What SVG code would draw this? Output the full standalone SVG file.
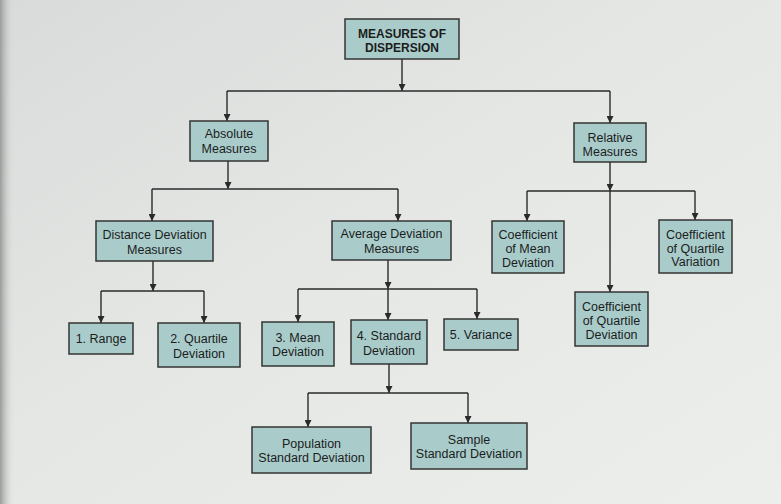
<svg xmlns="http://www.w3.org/2000/svg" width="781" height="504" viewBox="0 0 781 504">
<defs>
<linearGradient id="bg" x1="0" y1="0" x2="1" y2="1">
<stop offset="0" stop-color="#d8dbd9"/>
<stop offset="0.5" stop-color="#e6e8e6"/>
<stop offset="1" stop-color="#eceeec"/>
</linearGradient>
<linearGradient id="edge" x1="0" y1="0" x2="1" y2="0">
<stop offset="0" stop-color="#9a9c9a"/>
<stop offset="1" stop-color="#dcdfdd" stop-opacity="0"/>
</linearGradient>
<marker id="ah" viewBox="0 0 10 10" refX="10" refY="5" markerWidth="7" markerHeight="7" markerUnits="userSpaceOnUse" orient="auto">
<path d="M0,0 L10,5 L0,10 Z" fill="#2a2a2a"/>
</marker>
</defs>
<style>
.box{fill:#a9cccb;stroke:#333533;stroke-width:1.5}
.t{font-family:"Liberation Sans",Arial,sans-serif;font-size:12.5px;fill:#1c1c1c;text-anchor:middle}
.b{font-weight:bold;font-size:12px}
.c path{fill:none;stroke:#2a2a2a;stroke-width:1.4}
.a{marker-end:url(#ah)}
</style>
<rect width="781" height="504" fill="url(#bg)"/>
<rect width="14" height="504" fill="url(#edge)"/>

<g id="connectors" class="c">
<path class="a" d="M402 59 V91"/>
<path d="M227 91 H610"/>
<path class="a" d="M227 91 V121"/>
<path class="a" d="M610 91 V123"/>

<path class="a" d="M228 161 V189"/>
<path d="M152 189 H398"/>
<path class="a" d="M152 189 V221"/>
<path class="a" d="M398 189 V221"/>

<path class="a" d="M610 162 V191"/>
<path d="M527 191 H695"/>
<path class="a" d="M527 191 V221"/>
<path class="a" d="M695 191 V220"/>
<path class="a" d="M610 191 V292"/>

<path class="a" d="M153 261 V291"/>
<path d="M101 291 H204"/>
<path class="a" d="M101 291 V323"/>
<path class="a" d="M204 291 V323"/>

<path class="a" d="M388 260 V289"/>
<path d="M298 289 H477"/>
<path class="a" d="M298 289 V322"/>
<path class="a" d="M388 289 V320"/>
<path class="a" d="M477 289 V319"/>

<path class="a" d="M389 364 V393"/>
<path d="M308 393 H468"/>
<path class="a" d="M308 393 V427"/>
<path class="a" d="M468 393 V423"/>
</g>

<g id="n-top"><rect class="box" x="345" y="19" width="114" height="40"/>
<text class="t b" x="402" y="37.5">MEASURES OF</text><text class="t b" x="402" y="51.5">DISPERSION</text></g>

<g id="n-abs"><rect class="box" x="190" y="121" width="78" height="40"/>
<text class="t" x="229" y="137.5">Absolute</text><text class="t" x="229" y="152.5">Measures</text></g>

<g id="n-rel"><rect class="box" x="574" y="123" width="72" height="39"/>
<text class="t" x="610" y="141.5">Relative</text><text class="t" x="610" y="155.5">Measures</text></g>

<g id="n-dist"><rect class="box" x="96" y="221" width="117" height="40"/>
<text class="t" x="154.5" y="238.5">Distance Deviation</text><text class="t" x="154.5" y="253.5">Measures</text></g>

<g id="n-avg"><rect class="box" x="332" y="221" width="119" height="39"/>
<text class="t" x="391.5" y="237.5">Average Deviation</text><text class="t" x="391.5" y="252.5">Measures</text></g>

<g id="n-cmd"><rect class="box" x="492" y="221" width="72" height="52"/>
<text class="t" x="528" y="238.5">Coefficient</text><text class="t" x="528" y="252.5">of Mean</text><text class="t" x="528" y="266.5">Deviation</text></g>

<g id="n-cqv"><rect class="box" x="659" y="220" width="73" height="53"/>
<text class="t" x="695.5" y="238.5">Coefficient</text><text class="t" x="695.5" y="252.5">of Quartile</text><text class="t" x="695.5" y="265.5">Variation</text></g>

<g id="n-cqd"><rect class="box" x="575" y="292" width="73" height="54"/>
<text class="t" x="611.5" y="310.5">Coefficient</text><text class="t" x="611.5" y="324.5">of Quartile</text><text class="t" x="611.5" y="338.5">Deviation</text></g>

<g id="n-range"><rect class="box" x="69" y="323" width="64" height="31"/>
<text class="t" x="101" y="342.5">1. Range</text></g>

<g id="n-qd"><rect class="box" x="158" y="323" width="82" height="44"/>
<text class="t" x="199" y="342.5">2. Quartile</text><text class="t" x="199" y="357.5">Deviation</text></g>

<g id="n-mean"><rect class="box" x="262" y="322" width="72" height="44"/>
<text class="t" x="298" y="341.5">3. Mean</text><text class="t" x="298" y="355.5">Deviation</text></g>

<g id="n-std"><rect class="box" x="351" y="320" width="76" height="44"/>
<text class="t" x="389" y="339.5">4. Standard</text><text class="t" x="389" y="354.5">Deviation</text></g>

<g id="n-var"><rect class="box" x="444" y="319" width="74" height="31"/>
<text class="t" x="481" y="339">5. Variance</text></g>

<g id="n-pop"><rect class="box" x="252" y="427" width="119" height="46"/>
<text class="t" x="311.5" y="447.5">Population</text><text class="t" x="311.5" y="461.5">Standard Deviation</text></g>

<g id="n-samp"><rect class="box" x="411" y="423" width="116" height="46"/>
<text class="t" x="469" y="443.5">Sample</text><text class="t" x="469" y="457.5">Standard Deviation</text></g>
</svg>
